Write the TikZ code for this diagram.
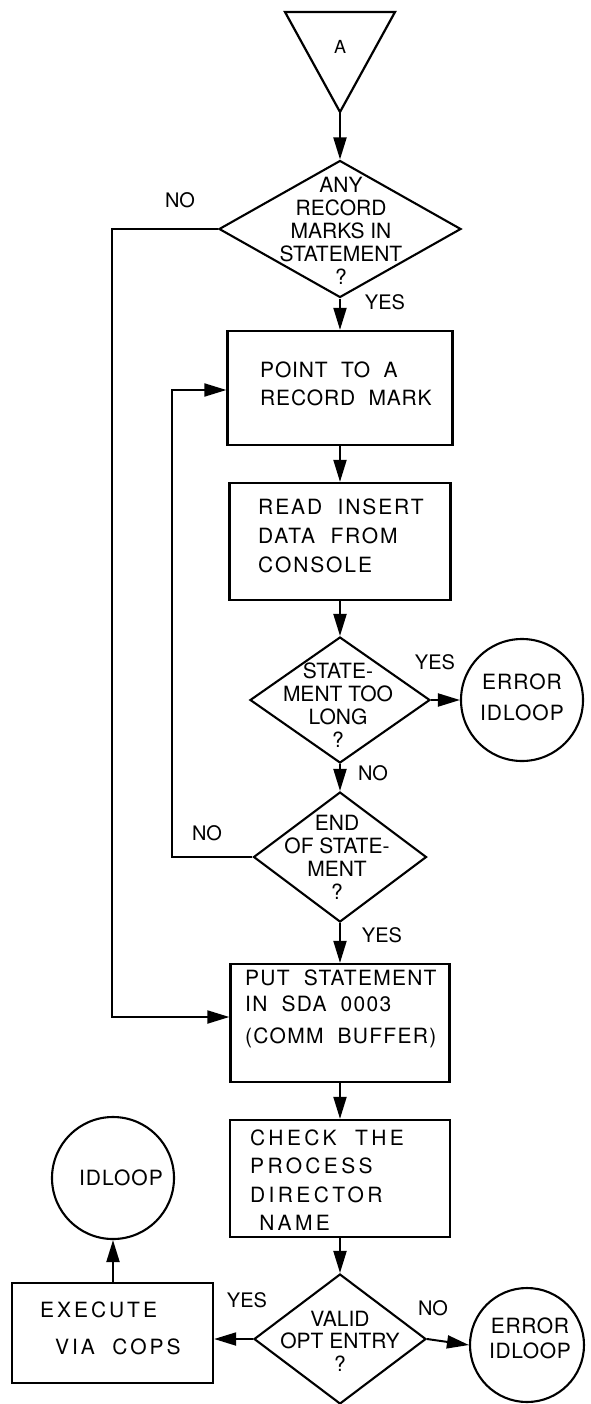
\documentclass[tikz,border=0pt]{standalone}
\usepackage{fontspec}
\setmainfont{TeX Gyre Heros}
\usetikzlibrary{shapes.geometric,arrows.meta}
\newcommand{\lsp}[1]{\addfontfeatures{LetterSpace=#1}}
\tikzset{
  ln/.style={line width=2pt},
  arr/.style={ln,-{Triangle[length=22pt,width=13pt]}},
  boxn/.style={draw,rectangle,line width=2.3pt,inner sep=0pt},
  dia/.style={draw,diamond,line width=2.1pt,inner sep=0pt},
  circ/.style={draw,circle,line width=2.1pt,inner sep=0pt},
  dtxt/.style={align=center,inner sep=0pt,font=\fontsize{21}{23}\selectfont},
  btxt/.style={align=left,inner sep=0pt,anchor=west},
  lbl/.style={inner sep=0pt,font=\fontsize{20}{22}\selectfont}
}
\begin{document}
\begin{tikzpicture}[x=1pt,y=-1pt]
\useasboundingbox (0,0) rectangle (590,1404);
% connector A
\draw[ln,line width=2.2pt] (285,12) -- (395,12) -- (340,112) -- cycle;
\coordinate (triA) at (340,112);
\node[inner sep=0pt,font=\fontsize{18}{20}\selectfont] (lA) at (340,47) {A};
% decision 1
\node[dia,minimum width=242pt,minimum height=137pt] (d1) at (340,229) {};
\node[dtxt] (d1t) at (341,231) {ANY\\RECORD\\MARKS IN\\STATEMENT\\?};
% box 1
\node[boxn,minimum width=225pt,minimum height=114pt] (b1) at (340,388) {};
\node[btxt,font=\fontsize{21}{28}\selectfont\lsp{4}] (b1t) at (260,384) {POINT\ \ TO\ \ A\\RECORD\ \ MARK};
% box 2
\node[boxn,minimum width=221pt,minimum height=117pt] (b2) at (340,541.5) {};
\node[btxt,font=\fontsize{21}{29}\selectfont\lsp{9}] (b2t) at (258,536) {READ\ \ INSERT\\DATA\ \ FROM\\CONSOLE};
% decision 2
\node[dia,minimum width=180pt,minimum height=126pt] (d2) at (340,700) {};
\node[dtxt] (d2t) at (338,705) {STATE-\\MENT TOO\\LONG\\?};
% error 1
\node[circ,minimum size=122pt] (c1) at (522,700) {};
\node[dtxt,font=\fontsize{21}{31}\selectfont\lsp{5}] (c1t) at (522,697) {ERROR\\IDLOOP};
% decision 3
\node[dia,minimum width=173pt,minimum height=130pt] (d3) at (340,857) {};
\node[dtxt] (d3t) at (337,857) {END\\OF STATE-\\MENT\\?};
% box 3
\node[boxn,minimum width=219pt,minimum height=118pt] (b3) at (340,1023) {};
\node[btxt,font=\fontsize{21}{26}\selectfont\lsp{6}] (b3t) at (245,1009) {PUT\ \ STATEMENT\\IN\ \ SDA\ \ 0003\\[6pt](COMM\ \ BUFFER)};
% box 4
\node[boxn,minimum width=220pt,minimum height=117pt] (b4) at (340,1178.5) {};
\node[btxt,font=\fontsize{21}{28.5}\selectfont\lsp{16}] (b4t) at (250,1180) {CHECK\ \ THE\\PROCESS\\DIRECTOR\\\ NAME};
% decision 4
\node[dia,minimum width=172pt,minimum height=130pt] (d4) at (340,1339) {};
\node[dtxt,font=\fontsize{21}{22.5}\selectfont] (d4t) at (340,1341) {VALID\\OPT ENTRY\\?};
% execute box
\node[boxn,minimum width=201pt,minimum height=100pt] (b5) at (112.5,1333) {};
\node[btxt,font=\fontsize{21}{23}\selectfont\lsp{14}] (b5ta) at (40,1310) {EXECUTE};
\node[btxt,font=\fontsize{21}{23}\selectfont\lsp{14}] (b5tb) at (55,1347) {VIA\ \ COPS};
% idloop circle
\node[circ,minimum size=122pt] (c2) at (113,1178) {};
\node[dtxt,font=\fontsize{21}{23}\selectfont\lsp{5}] (c2t) at (121,1178) {IDLOOP};
% error 2
\node[circ,minimum size=114pt] (c3) at (527,1345) {};
\node[dtxt,font=\fontsize{21}{25}\selectfont\lsp{3}] (c3t) at (530,1338) {ERROR\\IDLOOP};
% labels
\node[lbl] (l1) at (180,200) {NO};
\node[lbl] (l2) at (385,302) {YES};
\node[lbl] (l3) at (435,662) {YES};
\node[lbl] (l4) at (373,773) {NO};
\node[lbl] (l5) at (207,833) {NO};
\node[lbl] (l6) at (382,935) {YES};
\node[lbl] (l7) at (247,1300) {YES};
\node[lbl] (l8) at (433,1308) {NO};
% connectors
\coordinate (nl) at (112,229);
\coordinate (nlb) at (112,1017);
\coordinate (lpx) at (172,390);
\draw[arr] (triA) -- (d1.north);
\draw[arr] (d1.south) -- (b1.north);
\draw[arr] (d1.west) -- (nl) -- (nlb) -- (nlb -| b3.west);
\draw[arr] (b1.south) -- (b2.north);
\draw[arr] (b2.south) -- (d2.north);
\draw[arr] (d2.east) -- (c1.west);
\draw[arr] (d2.south) -- (d3.north);
\draw[arr] (d3.west) -| (lpx) -- (lpx -| b1.west);
\draw[arr] (d3.south) -- (b3.north);
\draw[arr] (b3.south) -- (b4.north);
\draw[arr] (b4.south) -- (d4.north);
\draw[arr] (d4.west) -- (d4.west -| b5.east);
\draw[arr] (d4.east) -- (c3.west);
\draw[arr] (b5.north -| c2.south) -- (c2.south);
\end{tikzpicture}
\end{document}
